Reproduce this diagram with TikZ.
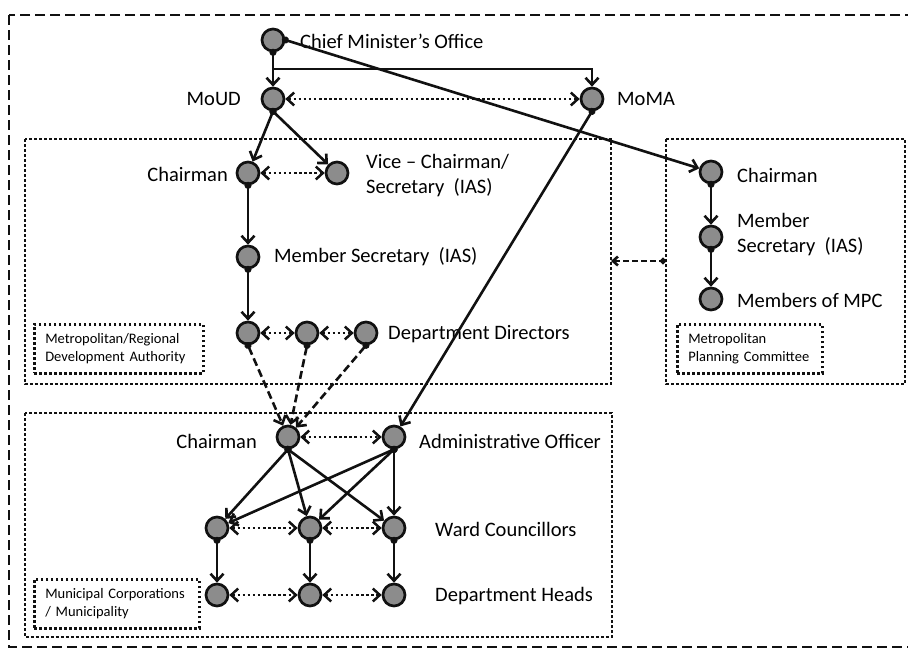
\documentclass[tikz,border=0pt]{standalone}
\usepackage{fontspec}
\setmainfont{Carlito}
\usetikzlibrary{arrows.meta}
\definecolor{cnode}{HTML}{8C8C8C}
\definecolor{cline}{HTML}{111111}

\begin{document}
\begin{tikzpicture}[x=1pt,y=-1pt,line join=miter,
    org/.style={circle,draw=cline,fill=cnode,line width=2.7pt,minimum size=22pt,inner sep=0pt},
    lbl/.style={font=\fontsize{20.5}{25}\selectfont,inner sep=0pt,align=left},
    tag/.style={draw=cline,line width=2.6pt,dash pattern=on 2.6pt off 2.4pt,anchor=north west,
      font=\fontsize{14.5}{17.5}\selectfont,align=left,inner xsep=11pt,minimum height=49pt},
    zone/.style={draw=cline,line width=2.6pt,dash pattern=on 2.6pt off 2.4pt},
    link/.style={cline,line width=2.6pt,{Circle[length=7pt]}-{Straight Barb[length=7pt,width=13pt]},shorten <=-3.5pt},
    plain/.style={cline,line width=2.6pt,-{Straight Barb[length=7pt,width=13pt]}},
    peer/.style={cline,line width=2.5pt,dash pattern=on 2.5pt off 2.6pt,
      {Straight Barb[length=7pt,width=13pt]}-{Straight Barb[length=7pt,width=13pt]}},
    report/.style={cline,line width=2.6pt,dash pattern=on 8pt off 4pt,{Circle[length=7pt]}-{Straight Barb[length=7pt,width=13pt]},shorten <=-3.5pt}]
    \useasboundingbox (0,0) rectangle (908,649);
    \clip (0,0) rectangle (908,649);
    % ---- frames
    \draw[cline,line width=2.8pt,dash pattern=on 10pt off 5pt] (9,15) rectangle (940,647);
    \draw[zone] (25,139) rectangle (611,384);
    \draw[zone] (666,139) rectangle (905,384);
    \draw[zone] (25,413) rectangle (612,637);
    \node[tag,text width=147pt] (tagrda) at (33,323) {Metropolitan/Regional\\Development Authority};
    \node[tag,text width=123pt] (tagmpc) at (676,323) {Metropolitan\\Planning Committee};
    \node[tag,text width=143pt] (tagmun) at (33,578) {Municipal Corporations\\/ Municipality};
    % ---- state level
    \node[org] (cmo) at (273,40) {};
    \node[lbl,anchor=west] (cmolbl) at (300,41) {Chief Minister’s Office};
    \node[org] (moud) at (273,99) {};
    \node[lbl,anchor=east] (moudlbl) at (241,99) {MoUD};
    \node[org] (moma) at (592,99) {};
    \node[lbl,anchor=west] (momalbl) at (617,99) {MoMA};
    \coordinate (split) at (273,69);
    % ---- development authority
    \node[org] (rchair) at (248,173) {};
    \node[lbl,anchor=east] (rchairlbl) at (228,174) {Chairman};
    \node[org] (rvice) at (337,173) {};
    \node[lbl,anchor=west] (rvicelbl) at (366,176) {Vice -- Chairman/\\Secretary\ \ (IAS)};
    \node[org] (rsec) at (248,257) {};
    \node[lbl,anchor=west] (rseclbl) at (274,257) {Member Secretary\ \ (IAS)};
    \foreach \i/\x in {1/248,2/307,3/366}
      \node[org] (dd\i) at (\x,333) {};
    \node[lbl,anchor=west] (ddlbl) at (388,334) {Department Directors};
    % ---- planning committee
    \node[org] (pchair) at (711,172) {};
    \node[lbl,anchor=west] (pchairlbl) at (737,175) {Chairman};
    \node[org] (psec) at (711,237) {};
    \node[lbl,anchor=west] (pseclbl) at (737,235) {Member\\Secretary\ \ (IAS)};
    \node[org] (pmem) at (711,299) {};
    \node[lbl,anchor=west] (pmemlbl) at (737,300) {Members of MPC};
    \coordinate (rdaedge) at (611,261);
    \coordinate (mpcedge) at (666,261);
    % ---- municipal corporation
    \node[org] (mchair) at (288,437) {};
    \node[lbl,anchor=east] (mchairlbl) at (257,441) {Chairman};
    \node[org] (madmin) at (394,437) {};
    \node[lbl,anchor=west] (madminlbl) at (419,441) {Administrative Officer};
    \foreach \i/\x in {1/217,2/310,3/394}{
      \node[org] (wc\i) at (\x,528) {};
      \node[org] (dh\i) at (\x,595) {};}
    \node[lbl,anchor=west] (wclbl) at (435,529) {Ward Councillors};
    \node[lbl,anchor=west] (dhlbl) at (435,596) {Department Heads};
    % ---- connectors
    \draw[link] (cmo.south) -- (moud);
    \draw[plain] (split) -| (moma);
    \draw[link] (cmo.east) -- (pchair);
    \draw[peer] (moud) -- (moma);
    \draw[link] (moud.south) -- (rchair);
    \draw[link] (moud.south) -- (rvice);
    \draw[peer] (rchair) -- (rvice);
    \draw[link] (rchair.south) -- (rsec);
    \draw[link] (rsec.south) -- (dd1);
    \draw[peer] (dd1) -- (dd2);
    \draw[peer] (dd2) -- (dd3);
    \foreach \i in {1,2,3}
      \draw[report] (dd\i.south) -- (mchair);
    \draw[link] (pchair.south) -- (psec);
    \draw[link] (psec.south) -- (pmem);
    \draw[cline,line width=2.6pt,dash pattern=on 6pt off 3pt,
      {Straight Barb[length=5pt,width=9pt]}-{Circle[length=6pt]}] (rdaedge) -- (mpcedge);
    \draw[link] (moma.south) -- (madmin);
    \draw[peer] (mchair) -- (madmin);
    \foreach \i in {1,2,3}{
      \draw[link] (mchair.south) -- (wc\i);
      \draw[link] (madmin.south) -- (wc\i);
      \draw[link] (wc\i.south) -- (dh\i);}
    \draw[peer] (wc1) -- (wc2);
    \draw[peer] (wc2) -- (wc3);
    \draw[peer] (dh1) -- (dh2);
    \draw[peer] (dh2) -- (dh3);
\end{tikzpicture}
\end{document}
